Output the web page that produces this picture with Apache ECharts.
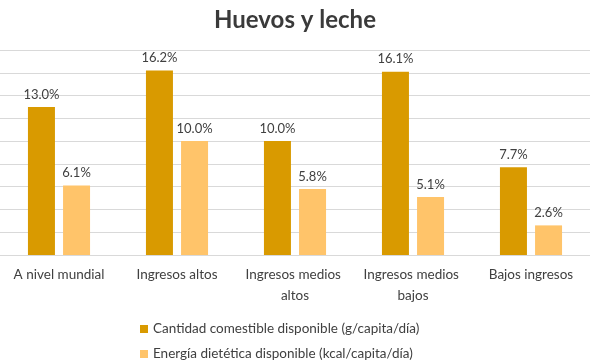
<!DOCTYPE html>
<html><head><meta charset="utf-8">
<script src="https://cdn.jsdelivr.net/npm/echarts@6/dist/echarts.min.js"></script>
<style>html,body{margin:0;padding:0;background:#fff}#c{width:590px;height:364px}</style>
</head><body><div id="c"></div>
<script>
var categories = ["A nivel mundial", "Ingresos altos", "Ingresos medios altos", "Ingresos medios bajos", "Bajos ingresos"];
var cantidad = [13.0, 16.2, 10.0, 16.1, 7.7];
var energia = [6.1, 10.0, 5.8, 5.1, 2.6];
var seriesNames = ["Cantidad comestible disponible (g/capita/día)", "Energía dietética disponible (kcal/capita/día)"];
var titleText = "Huevos y leche";

var chart = echarts.init(document.getElementById('c'), null, {renderer: 'canvas'});
var font = 'Lato, "Open Sans", sans-serif';
var lbl = {show: true, position: 'top', distance: 6, color: '#404040', fontSize: 13, fontFamily: font,
  formatter: function(p){ return p.value.toFixed(1) + '%'; }};
function leg(name, top){
  return {data: [name], left: 135, top: top, itemWidth: 8, itemHeight: 8, icon: 'rect',
    textStyle: {fontFamily: font, fontSize: 13.5, color: '#404040'}};
}
chart.setOption({
  animation: false,
  title: {text: titleText, left: 'center', top: 3,
    textStyle: {fontFamily: font, fontSize: 24, fontWeight: 'bold', color: '#3a3a3a'}},
  grid: {left: 0, right: 0, top: 50, bottom: 109},
  legend: [leg(seriesNames[0], 317), leg(seriesNames[1], 342)],
  xAxis: {type: 'category', data: categories,
    axisLine: {lineStyle: {color: '#d9d9d9'}}, axisTick: {show: false},
    axisLabel: {color: '#404040', fontSize: 13.5, fontFamily: font, margin: 9, lineHeight: 21,
      width: 110, overflow: 'break', interval: 0}},
  yAxis: {type: 'value', min: 0, max: 18, interval: 2,
    axisLabel: {show: false}, axisLine: {show: false}, axisTick: {show: false},
    splitLine: {lineStyle: {color: '#d9d9d9'}}},
  series: [
    {name: seriesNames[0], type: 'bar', data: cantidad, barWidth: 27, barGap: '30%',
     itemStyle: {color: '#D99A00'}, label: lbl},
    {name: seriesNames[1], type: 'bar', data: energia, barWidth: 27,
     itemStyle: {color: '#FFC46A'}, label: lbl}
  ]
});
</script></body></html>
